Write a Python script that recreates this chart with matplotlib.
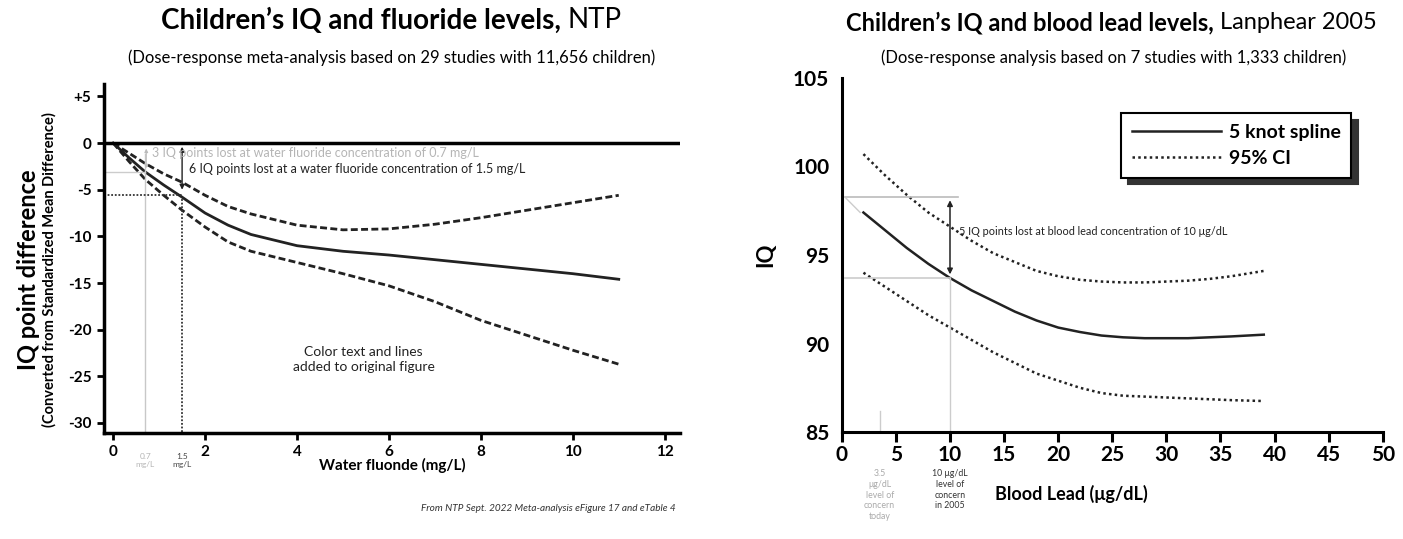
import matplotlib
matplotlib.use("Agg")
import matplotlib.pyplot as plt
from matplotlib import font_manager

# ---- data: fluoride (NTP 2022) ----
fl_x = [0, 0.35, 0.7, 1.1, 1.5, 2, 2.5, 3, 4, 5, 6, 7, 8, 9, 10, 11]
fl_iq = [0, -1.6, -3.1, -4.5, -5.8, -7.5, -8.8, -9.8, -11.0, -11.6, -12.0, -12.5, -13.0, -13.5, -14.0, -14.6]
fl_upper = [0, -1.1, -2.2, -3.3, -4.2, -5.6, -6.8, -7.6, -8.8, -9.3, -9.2, -8.7, -8.0, -7.2, -6.4, -5.6]
fl_lower = [0, -2.0, -3.9, -5.6, -7.2, -9.0, -10.6, -11.6, -12.8, -14.0, -15.3, -17.0, -19.0, -20.6, -22.2, -23.7]
fl_yticks = [5, 0, -5, -10, -15, -20, -25, -30]
fl_yticklabels = ["+5", "0", "-5", "-10", "-15", "-20", "-25", "-30"]
fl_xticks = [0, 2, 4, 6, 8, 10, 12]

# ---- data: blood lead (Lanphear 2005) ----
pb_x = [2, 4, 6, 8, 10, 12, 14, 16, 18, 20, 22, 24, 26, 28, 30, 32, 34, 36, 39]
pb_iq = [97.4, 96.4, 95.4, 94.5, 93.7, 93.0, 92.4, 91.8, 91.3, 90.9, 90.65, 90.45, 90.35, 90.3, 90.3, 90.3, 90.35, 90.4, 90.5]
pb_upper = [100.7, 99.5, 98.4, 97.4, 96.6, 95.8, 95.1, 94.6, 94.1, 93.8, 93.6, 93.5, 93.45, 93.45, 93.5, 93.55, 93.65, 93.8, 94.1]
pb_lower = [94.0, 93.2, 92.4, 91.6, 90.9, 90.2, 89.5, 88.9, 88.3, 87.9, 87.5, 87.2, 87.05, 87.0, 86.95, 86.9, 86.85, 86.8, 86.75]
pb_yticks = [85, 90, 95, 100, 105]
pb_xticks = [0, 5, 10, 15, 20, 25, 30, 35, 40, 45, 50]

installed = {f.name for f in font_manager.fontManager.ttflist}
BODY = "Lato" if "Lato" in installed else "DejaVu Sans"
plt.rcParams["font.family"] = [BODY, "DejaVu Sans"]

fig = plt.figure(figsize=(14.03, 5.39), dpi=100)
fig.patch.set_facecolor("white")


def two_part_title(cx, y, bold, normal, size):
    t1 = fig.text(0, y, bold, fontsize=size, fontweight="bold", va="center", ha="left")
    t2 = fig.text(0, y, normal, fontsize=size, va="center", ha="left")
    fig.canvas.draw()
    r = fig.canvas.get_renderer()
    w1 = t1.get_window_extent(r).width / fig.bbox.width
    w2 = t2.get_window_extent(r).width / fig.bbox.width
    x0 = cx - (w1 + w2) / 2
    t1.set_x(x0)
    t2.set_x(x0 + w1)


# ================= left panel =================
ax1 = fig.add_axes([0.0741, 0.1967, 0.4105, 0.647])
ax1.set_xlim(-0.2, 12.33)
ax1.set_ylim(-31.07, 6.3)
for s in ["top", "right"]:
    ax1.spines[s].set_visible(False)
for s in ["left", "bottom"]:
    ax1.spines[s].set_linewidth(2.5)

ax1.axhline(0, color="black", lw=2.5, zorder=3)
ax1.plot(fl_x, fl_iq, color="#222222", lw=2)
ax1.plot(fl_x, fl_upper, color="#222222", lw=2, ls=(0, (2.5, 1.2)))
ax1.plot(fl_x, fl_lower, color="#222222", lw=2, ls=(0, (2.5, 1.2)))

# added reference lines
ax1.axvline(0.7, ymin=0.0, ymax=0.8, color="#c8c8c8", lw=1)
ax1.plot([-0.2, 0.7], [-3.1, -3.1], color="#cccccc", lw=1)
ax1.plot([1.5, 1.5], [-31, -5.8], color="#333333", lw=1.3, ls=(0, (1, 1)))
ax1.plot([-0.2, 1.5], [-5.6, -5.6], color="#333333", lw=1.3, ls=(0, (1, 1)))
ax1.annotate("", xy=(1.5, -5.3), xytext=(1.5, -0.1),
             arrowprops=dict(arrowstyle="<|-|>", color="#222222", lw=1, mutation_scale=7))
ax1.annotate("", xy=(0.72, -3.0), xytext=(0.72, -0.3),
             arrowprops=dict(arrowstyle="<|-|>", color="#bbbbbb", lw=0.8, mutation_scale=5))
ax1.text(0.85, -1.1, "3 IQ points lost at water fluoride concentration of 0.7 mg/L",
         fontsize=9, color="#b5b5b5", va="center")
ax1.text(1.65, -2.8, "6 IQ points lost at a water fluoride concentration of 1.5 mg/L",
         fontsize=9, color="#222222", va="center")
ax1.text(5.45, -23.2, "Color text and lines\nadded to original figure", fontsize=10,
         ha="center", va="center", linespacing=1.3, color="#222222")

ax1.set_yticks(fl_yticks)
ax1.set_yticklabels(fl_yticklabels, fontweight="bold", fontsize=11)
ax1.set_xticks(fl_xticks)
ax1.set_xticklabels([str(v) for v in fl_xticks], fontweight="bold", fontsize=11)
ax1.tick_params(direction="out", length=5, width=2, pad=4)
ax1.set_xlabel("Water fluonde (mg/L)", fontweight="bold", fontsize=11, labelpad=-1)
ax1.text(0.7, -33.2, "0.7\nmg/L", fontsize=6, color="#b5b5b5", ha="center", va="top")
ax1.text(1.5, -33.2, "1.5\nmg/L", fontsize=6, color="#444444", ha="center", va="top")

fig.text(0.020, 0.50, "IQ point difference", rotation=90, fontsize=17, fontweight="bold",
         ha="center", va="center")
fig.text(0.0355, 0.50, "(Converted from Standardized Mean Difference)", rotation=90,
         fontsize=10.5, fontweight="bold", ha="center", va="center")
fig.text(0.4815, 0.057, "From NTP Sept. 2022 Meta-analysis eFigure 17 and eTable 4",
         fontsize=7.2, style="italic", ha="right", va="center", color="#333333")

two_part_title(0.279, 0.962, "Children\u2019s IQ and fluoride levels, ", "NTP", 20)
fig.text(0.279, 0.893, "(Dose-response meta-analysis based on 29 studies with 11,656 children)",
         fontsize=12, ha="center", va="center")

# ================= right panel =================
ax2 = fig.add_axes([0.600, 0.1985, 0.3856, 0.6568])
ax2.set_xlim(0, 50)
ax2.set_ylim(85, 105)
for s in ["top", "right"]:
    ax2.spines[s].set_visible(False)
for s in ["left", "bottom"]:
    ax2.spines[s].set_linewidth(2.2)

ax2.plot(pb_x, pb_iq, color="#222222", lw=1.8, label="5 knot spline")
ax2.plot(pb_x, pb_upper, color="#222222", lw=1.8, ls=(0, (1, 1.3)), label="95% CI")
ax2.plot(pb_x, pb_lower, color="#222222", lw=1.8, ls=(0, (1, 1.3)))

ax2.plot([0.3, 10.7], [98.3, 98.3], color="#bbbbbb", lw=1.2)
ax2.plot([0.3, 10.0], [93.7, 93.7], color="#cccccc", lw=1.2)
ax2.plot([0.4, 1.7], [98.2, 97.4], color="#cccccc", lw=1)
ax2.plot([10, 10], [85, 93.7], color="#cccccc", lw=1)
ax2.plot([3.5, 3.5], [85, 86.2], color="#cccccc", lw=1)
ax2.annotate("", xy=(10, 93.75), xytext=(10, 98.25),
             arrowprops=dict(arrowstyle="<|-|>", color="#222222", lw=1.1, mutation_scale=8))
ax2.text(10.8, 96.3, "5 IQ points lost at blood lead concentration of 10 \u03bcg/dL",
         fontsize=7.8, color="#222222", va="center")

leg = ax2.legend(loc="upper right", bbox_to_anchor=(0.942, 0.9), frameon=True, fancybox=False,
                 shadow={"color": "#333333", "alpha": 1, "ox": 5, "oy": -5}, handlelength=4.6,
                 prop={"weight": "bold", "size": 14}, borderpad=0.55, labelspacing=0.45,
                 handletextpad=0.4, borderaxespad=0)
leg.get_frame().set_edgecolor("black")
leg.get_frame().set_linewidth(1.5)

ax2.set_yticks(pb_yticks)
ax2.set_yticklabels([str(v) for v in pb_yticks], fontsize=15, fontweight="bold")
ax2.set_xticks(pb_xticks)
ax2.set_xticklabels([str(v) for v in pb_xticks], fontsize=15, fontweight="bold")
ax2.tick_params(axis="x", direction="out", length=7, width=2.2, pad=2)
ax2.tick_params(axis="y", length=0, pad=9)
ax2.set_ylabel("IQ", fontsize=16, fontweight="bold", labelpad=12)
ax2.set_xlabel("Blood Lead (\u03bcg/dL)", fontsize=13, fontweight="bold")
ax2.xaxis.set_label_coords(0.425, -0.15)

ax2.text(3.5, 82.9, "3.5\n\u03bcg/dL\nlevel of\nconcern\ntoday", fontsize=6.3,
         color="#aaaaaa", ha="center", va="top", linespacing=1.25)
ax2.text(10, 82.9, "10 \u03bcg/dL\nlevel of\nconcern\nin 2005", fontsize=6.3,
         color="#333333", ha="center", va="top", linespacing=1.25)

two_part_title(0.792, 0.958, "Children\u2019s IQ and blood lead levels, ", "Lanphear 2005", 17)
fig.text(0.794, 0.892, "(Dose-response analysis based on 7 studies with 1,333 children)",
         fontsize=12, ha="center", va="center")

fig.savefig("out.png", dpi=100)
